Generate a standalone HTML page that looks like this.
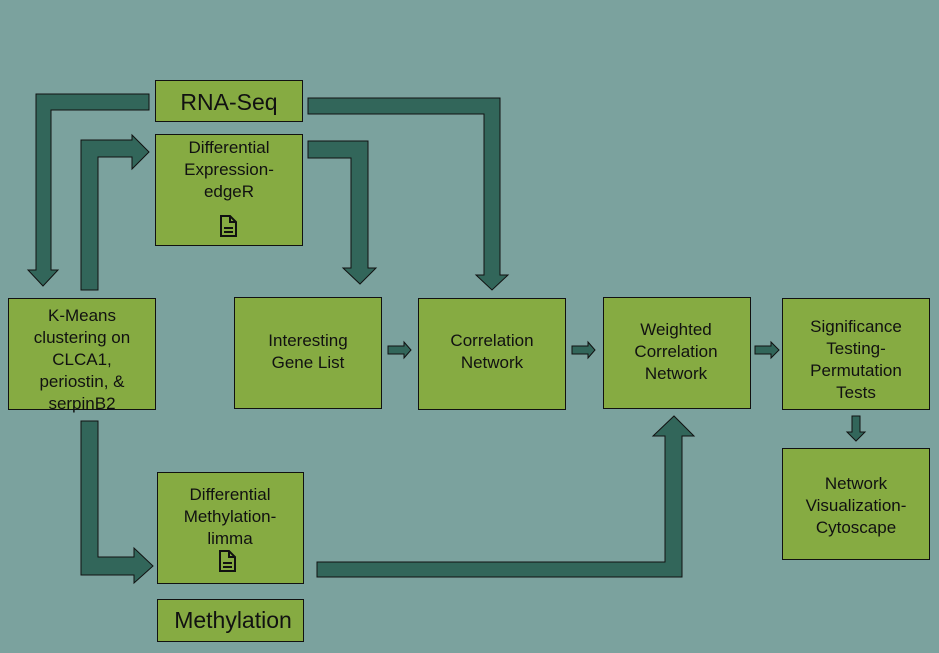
<!DOCTYPE html>
<html><head><meta charset="utf-8"><style>
html,body{margin:0;padding:0;background:#7ba29e;}
svg{display:block}
text{font-family:"Liberation Sans",sans-serif;fill:#111;text-anchor:middle}
</style></head><body>
<svg width="939" height="653" viewBox="0 0 939 653">
<rect width="939" height="653" fill="#7ba29e"/>
<g fill="#32665a" stroke="#111" stroke-width="1">
<polygon points="149,94 36,94 36,270 28,270 43,286 58,270 51,270 51,110 149,110"/>
<polygon points="81,290 81,140 132,140 132,135 149,152 132,169 132,157 98,157 98,290"/>
<polygon points="308,141 368,141 368,268 376,268 360,284 343,268 351,268 351,158 308,158"/>
<polygon points="308,98 500,98 500,275 508,275 492,290 476,275 484,275 484,114 308,114"/>
<polygon points="81,421 98,421 98,557 134,557 134,548 153,566 134,583 134,575 81,575"/>
<polygon points="317,562 665,562 665,436 653,436 674,416 694,436 682,436 682,577 317,577"/>
<polygon points="388,346 404,346 404,342 411,350 404,358 404,354 388,354"/>
<polygon points="572,346 588,346 588,342 595,350 588,358 588,354 572,354"/>
<polygon points="755,346 771,346 771,342 779,350 771,358 771,354 755,354"/>
<polygon points="852,416 860,416 860,432 865,432 856,441 847,432 852,432"/>
</g>
<g fill="#86ab42" stroke="#111" stroke-width="1">
<rect x="155.5" y="80.5" width="147" height="41"/>
<rect x="155.5" y="134.5" width="147" height="111"/>
<rect x="8.5" y="298.5" width="147" height="111"/>
<rect x="234.5" y="297.5" width="147" height="111"/>
<rect x="418.5" y="298.5" width="147" height="111"/>
<rect x="603.5" y="297.5" width="147" height="111"/>
<rect x="782.5" y="298.5" width="147" height="111"/>
<rect x="782.5" y="448.5" width="147" height="111"/>
<rect x="157.5" y="472.5" width="146" height="111"/>
<rect x="157.5" y="599.5" width="146" height="42"/>
</g>
<g font-size="17">
<text x="229" y="110" font-size="23">RNA-Seq</text>
<text x="229" y="153">Differential</text>
<text x="229" y="175">Expression-</text>
<text x="229" y="197">edgeR</text>
<text x="82" y="321">K-Means</text>
<text x="82" y="343">clustering on</text>
<text x="82" y="365">CLCA1,</text>
<text x="82" y="387">periostin, &amp;</text>
<text x="82" y="409">serpinB2</text>
<text x="308" y="346">Interesting</text>
<text x="308" y="368">Gene List</text>
<text x="492" y="346">Correlation</text>
<text x="492" y="368">Network</text>
<text x="676" y="335">Weighted</text>
<text x="676" y="357">Correlation</text>
<text x="676" y="379">Network</text>
<text x="856" y="332">Significance</text>
<text x="856" y="354">Testing-</text>
<text x="856" y="376">Permutation</text>
<text x="856" y="398">Tests</text>
<text x="856" y="489">Network</text>
<text x="856" y="511">Visualization-</text>
<text x="856" y="533">Cytoscape</text>
<text x="230" y="500">Differential</text>
<text x="230" y="522">Methylation-</text>
<text x="230" y="544">limma</text>
<text x="233" y="628" font-size="23">Methylation</text>
</g>
<g fill="none" stroke="#111" stroke-width="2">
<path d="M221,216 h9 l6,6 v14 h-15 z M230,216 v6 h6 M224,228 h9 M224,232 h9"/>
<path d="M220,551 h9 l6,6 v14 h-15 z M229,551 v6 h6 M223,563 h9 M223,567 h9"/>
</g>
</svg>
</body></html>
